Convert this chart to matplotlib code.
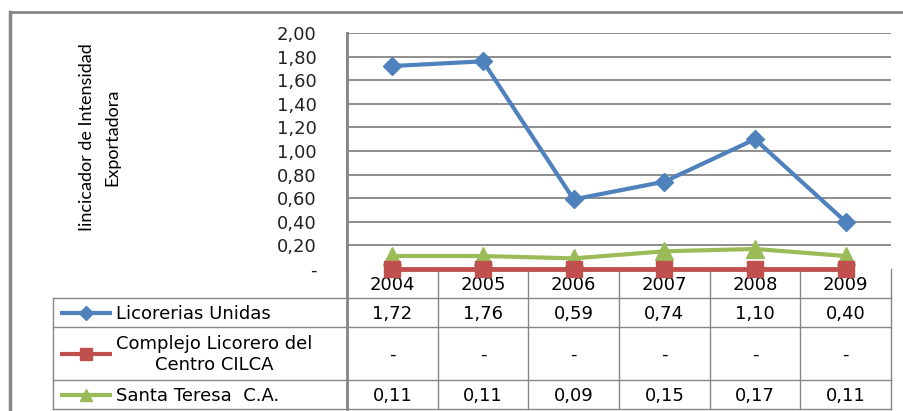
import matplotlib
matplotlib.use("Agg")
import matplotlib.pyplot as plt

W, H = 904, 411

years = ["2004", "2005", "2006", "2007", "2008", "2009"]
licorerias = [1.72, 1.76, 0.59, 0.74, 1.10, 0.40]
cilca = [0, 0, 0, 0, 0, 0]
santa_teresa = [0.11, 0.11, 0.09, 0.15, 0.17, 0.11]

series_names = ["Licorerias Unidas", "Complejo Licorero del\nCentro CILCA", "Santa Teresa  C.A."]
y_ticks = [0, 0.2, 0.4, 0.6, 0.8, 1.0, 1.2, 1.4, 1.6, 1.8, 2.0]
y_title = "Iincicador de Intensidad\nExportadora"

BLUE = "#4F81BD"
RED = "#C0504D"
GREEN = "#9BBB59"
GRID = "#868686"


def fmt(v):
    if v == 0:
        return "-"
    return f"{v:.2f}".replace(".", ",")


# layout in pixels
plot_l, plot_r, plot_t, plot_b = 347, 891, 33, 269
tab_l = 53
row_edges = [269, 298, 327, 380, 409]

fig = plt.figure(figsize=(W / 100, H / 100), dpi=100)
fig.patch.set_facecolor("white")

ax = fig.add_axes([plot_l / W, 1 - plot_b / H, (plot_r - plot_l) / W, (plot_b - plot_t) / H])
ax.set_xlim(-0.5, len(years) - 0.5)
ax.set_ylim(0, 2.0)
ax.set_yticks(y_ticks)
ax.set_yticklabels([fmt(v) for v in y_ticks], fontsize=13, color="#222222")
ax.tick_params(axis="y", length=0, pad=22)
ax.set_xticks([])
for s in ["top", "right", "bottom"]:
    ax.spines[s].set_visible(False)
ax.spines["left"].set_color(GRID)
ax.spines["left"].set_linewidth(2)
for v in y_ticks[1:]:
    ax.axhline(v, color=GRID, lw=1.3, zorder=0)

x = list(range(len(years)))
ax.plot(x, licorerias, color=BLUE, lw=3, marker="D", ms=9, zorder=3, clip_on=False)
ax.plot(x, santa_teresa, color=GREEN, lw=3, marker="^", ms=13, zorder=4, clip_on=False)
ax.plot(x, cilca, color=RED, lw=3.5, marker="s", ms=11, zorder=5, clip_on=False)

# overlay in pixel coordinates for table and frame
ov = fig.add_axes([0, 0, 1, 1], zorder=-1)
ov.set_xlim(0, W)
ov.set_ylim(H, 0)
ov.axis("off")

# outer frame
ov.plot([10, W], [12, 12], color=GRID, lw=2)
ov.plot([10, 10], [12, H], color=GRID, lw=2.5)

# y title
ov.text(100, 137, y_title, rotation=90, ha="center", va="center",
        fontsize=13, family=["Lato", "DejaVu Sans"],
        multialignment="center", linespacing=1.75)

# table grid
col_w = (plot_r - plot_l) / len(years)
col_edges = [plot_l + i * col_w for i in range(len(years) + 1)]
for ce in col_edges:
    ov.plot([ce, ce], [row_edges[0], row_edges[-1]], color=GRID, lw=1)
ov.plot([plot_l, plot_l], [plot_t, row_edges[-1]], color=GRID, lw=2)
ov.plot([tab_l, tab_l], [row_edges[1], row_edges[-1]], color=GRID, lw=1)
for re in row_edges[1:]:
    ov.plot([tab_l, plot_r], [re, re], color=GRID, lw=1)

for i, yr in enumerate(years):
    cx = (col_edges[i] + col_edges[i + 1]) / 2
    ov.text(cx, (row_edges[0] + row_edges[1]) / 2 + 1, yr, ha="center", va="center", fontsize=13)

rows = [licorerias, cilca, santa_teresa]
styles = [(BLUE, "D", 7), (RED, "s", 9), (GREEN, "^", 9)]
for r, (vals, name, (c, m, ms)) in enumerate(zip(rows, series_names, styles)):
    cy = (row_edges[r + 1] + row_edges[r + 2]) / 2
    ov.plot([60, 112], [cy, cy], color=c, lw=3, solid_capstyle="butt")
    ov.plot([86], [cy], color=c, marker=m, ms=ms, linestyle="none")
    ov.text(116, cy + 1, name, ha="left", va="center", fontsize=13,
            multialignment="center", linespacing=1.2)
    for i, v in enumerate(vals):
        cx = (col_edges[i] + col_edges[i + 1]) / 2
        ov.text(cx, cy + 1, fmt(v), ha="center", va="center", fontsize=13)

fig.savefig("out.png", dpi=100, facecolor="white")
